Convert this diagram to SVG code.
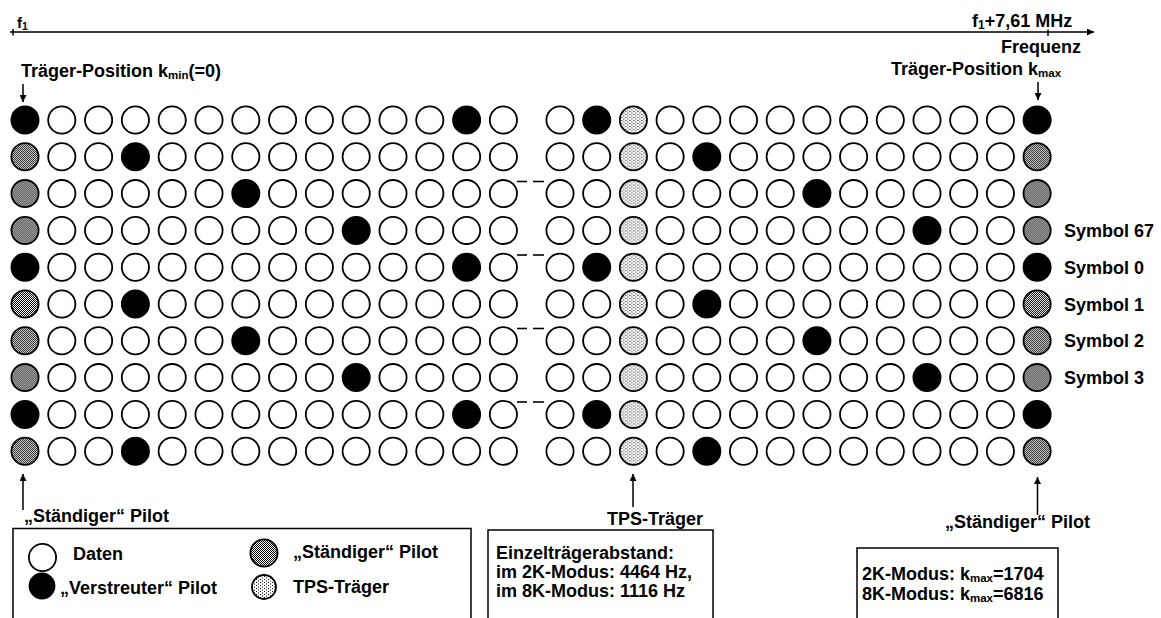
<svg xmlns="http://www.w3.org/2000/svg" xmlns:xlink="http://www.w3.org/1999/xlink" width="1161" height="618" viewBox="0 0 1161 618">
<style>
text{font-family:"Liberation Sans",Arial,sans-serif;font-weight:bold;font-size:18px;fill:#000}
.d{fill:#fff;stroke:#000;stroke-width:1.8}
.s{fill:#000;stroke:#000;stroke-width:1.8}
.c{fill:url(#cp);stroke:#000;stroke-width:1.8}
.t{fill:url(#tp);stroke:#000;stroke-width:1.8}
.ln{stroke:#000;stroke-width:1.5;fill:none}
.dash{stroke:#000;stroke-width:1.6}
.box{fill:none;stroke:#000;stroke-width:1.5}
</style>
<defs>
<pattern id="cp" width="2" height="2" patternUnits="userSpaceOnUse"><rect width="2" height="2" fill="#fff"/><rect width="1" height="1" fill="#000"/><rect x="1" y="1" width="1" height="1" fill="#000"/></pattern>
<pattern id="tp" width="4" height="3" patternUnits="userSpaceOnUse"><rect width="4" height="3" fill="#fff"/><rect width="1" height="1" fill="#000"/><rect x="2" y="1.5" width="1" height="1" fill="#000"/></pattern>
<marker id="ah" viewBox="0 0 10 10" refX="10" refY="5" markerWidth="7" markerHeight="7" markerUnits="userSpaceOnUse" orient="auto"><path d="M0,0 L10,5 L0,10 Z" fill="#000"/></marker>
<circle id="D" r="13.6" class="d"/>
<circle id="S" r="13.6" class="s"/>
<circle id="C" r="13.6" class="c"/>
<circle id="T" r="13.6" class="t"/>
<g id="rowA">
<use href="#S" x="25"/><use href="#D" x="61.8"/><use href="#D" x="98.6"/><use href="#D" x="135.4"/><use href="#D" x="172.2"/><use href="#D" x="209"/><use href="#D" x="245.8"/><use href="#D" x="282.6"/><use href="#D" x="319.4"/><use href="#D" x="356.2"/><use href="#D" x="393"/><use href="#D" x="429.8"/><use href="#S" x="466.6"/><use href="#D" x="503.4"/>
<use href="#D" x="560"/><use href="#S" x="596.7"/><use href="#T" x="633.4"/><use href="#D" x="670.1"/><use href="#D" x="706.8"/><use href="#D" x="743.5"/><use href="#D" x="780.2"/><use href="#D" x="816.9"/><use href="#D" x="853.6"/><use href="#D" x="890.3"/><use href="#D" x="927"/><use href="#D" x="963.7"/><use href="#D" x="1000.4"/><use href="#S" x="1037.1"/>
</g>
<g id="rowB">
<use href="#C" x="25"/><use href="#D" x="61.8"/><use href="#D" x="98.6"/><use href="#S" x="135.4"/><use href="#D" x="172.2"/><use href="#D" x="209"/><use href="#D" x="245.8"/><use href="#D" x="282.6"/><use href="#D" x="319.4"/><use href="#D" x="356.2"/><use href="#D" x="393"/><use href="#D" x="429.8"/><use href="#D" x="466.6"/><use href="#D" x="503.4"/>
<use href="#D" x="560"/><use href="#D" x="596.7"/><use href="#T" x="633.4"/><use href="#D" x="670.1"/><use href="#S" x="706.8"/><use href="#D" x="743.5"/><use href="#D" x="780.2"/><use href="#D" x="816.9"/><use href="#D" x="853.6"/><use href="#D" x="890.3"/><use href="#D" x="927"/><use href="#D" x="963.7"/><use href="#D" x="1000.4"/><use href="#C" x="1037.1"/>
</g>
<g id="rowC">
<use href="#C" x="25"/><use href="#D" x="61.8"/><use href="#D" x="98.6"/><use href="#D" x="135.4"/><use href="#D" x="172.2"/><use href="#D" x="209"/><use href="#S" x="245.8"/><use href="#D" x="282.6"/><use href="#D" x="319.4"/><use href="#D" x="356.2"/><use href="#D" x="393"/><use href="#D" x="429.8"/><use href="#D" x="466.6"/><use href="#D" x="503.4"/>
<use href="#D" x="560"/><use href="#D" x="596.7"/><use href="#T" x="633.4"/><use href="#D" x="670.1"/><use href="#D" x="706.8"/><use href="#D" x="743.5"/><use href="#D" x="780.2"/><use href="#S" x="816.9"/><use href="#D" x="853.6"/><use href="#D" x="890.3"/><use href="#D" x="927"/><use href="#D" x="963.7"/><use href="#D" x="1000.4"/><use href="#C" x="1037.1"/>
</g>
<g id="rowD">
<use href="#C" x="25"/><use href="#D" x="61.8"/><use href="#D" x="98.6"/><use href="#D" x="135.4"/><use href="#D" x="172.2"/><use href="#D" x="209"/><use href="#D" x="245.8"/><use href="#D" x="282.6"/><use href="#D" x="319.4"/><use href="#S" x="356.2"/><use href="#D" x="393"/><use href="#D" x="429.8"/><use href="#D" x="466.6"/><use href="#D" x="503.4"/>
<use href="#D" x="560"/><use href="#D" x="596.7"/><use href="#T" x="633.4"/><use href="#D" x="670.1"/><use href="#D" x="706.8"/><use href="#D" x="743.5"/><use href="#D" x="780.2"/><use href="#D" x="816.9"/><use href="#D" x="853.6"/><use href="#D" x="890.3"/><use href="#S" x="927"/><use href="#D" x="963.7"/><use href="#D" x="1000.4"/><use href="#C" x="1037.1"/>
</g>
</defs>

<g id="axis">
<line class="ln" x1="10" y1="32" x2="1094" y2="32" marker-end="url(#ah)"/>
<line class="ln" x1="13" y1="29" x2="13" y2="35.5"/>
<line class="ln" x1="1048" y1="29.5" x2="1048" y2="36"/>
<text x="17" y="28" style="font-size:15px">f<tspan dy="1.5" style="font-size:10.5px">1</tspan></text>
<text x="972" y="27">f<tspan dy="2" style="font-size:12px">1</tspan><tspan dy="-2">+7,61 MHz</tspan></text>
<text x="1081" y="53" text-anchor="end">Frequenz</text>
</g>

<g id="grid">
<use href="#rowA" y="120"/>
<use href="#rowB" y="156.8"/>
<use href="#rowC" y="193.6"/>
<use href="#rowD" y="230.4"/>
<use href="#rowA" y="267.2"/>
<use href="#rowB" y="304"/>
<use href="#rowC" y="340.8"/>
<use href="#rowD" y="377.6"/>
<use href="#rowA" y="414.4"/>
<use href="#rowB" y="451.2"/>
</g>

<g id="gap-dashes">
<line class="dash" x1="517" y1="181.5" x2="527" y2="181.5"/><line class="dash" x1="533" y1="181.5" x2="544" y2="181.5"/>
<line class="dash" x1="517" y1="255" x2="527" y2="255"/><line class="dash" x1="533" y1="255" x2="544" y2="255"/>
<line class="dash" x1="517" y1="328.5" x2="527" y2="328.5"/><line class="dash" x1="533" y1="328.5" x2="544" y2="328.5"/>
<line class="dash" x1="517" y1="402" x2="527" y2="402"/><line class="dash" x1="533" y1="402" x2="544" y2="402"/>
</g>

<g id="labels-top">
<text x="21" y="77">Träger-Position k<tspan dy="2" style="font-size:11.5px">min</tspan><tspan dy="-2">(=0)</tspan></text>
<text x="891" y="75">Träger-Position k<tspan dy="2" style="font-size:11.5px">max</tspan></text>
</g>

<g id="symbol-labels">
<text x="1064" y="236.5">Symbol 67</text>
<text x="1064" y="273.5">Symbol 0</text>
<text x="1064" y="310.5">Symbol 1</text>
<text x="1064" y="347">Symbol 2</text>
<text x="1064" y="384">Symbol 3</text>
</g>

<g id="connectors">
<line class="ln" x1="23" y1="84" x2="23" y2="102" marker-end="url(#ah)"/>
<line class="ln" x1="1038" y1="82" x2="1038" y2="100" marker-end="url(#ah)"/>
<line class="ln" x1="23" y1="510" x2="23" y2="474" marker-end="url(#ah)"/>
<line class="ln" x1="633" y1="507" x2="633" y2="474" marker-end="url(#ah)"/>
<line class="ln" x1="1037.5" y1="515" x2="1037.5" y2="477" marker-end="url(#ah)"/>
</g>

<g id="labels-bottom">
<text x="24" y="522">„Ständiger“ Pilot</text>
<text x="607" y="525">TPS-Träger</text>
<text x="945" y="528">„Ständiger“ Pilot</text>
</g>

<g id="legend">
<path class="box" d="M13,618 V528.5 H471 V618"/>
<circle class="d" cx="42.5" cy="557.5" r="13.6"/>
<text x="73" y="560">Daten</text>
<circle class="s" cx="42" cy="586" r="12.5"/>
<text x="60" y="594">„Verstreuter“ Pilot</text>
<circle class="c" cx="264" cy="553" r="13.6"/>
<text x="293" y="558">„Ständiger“ Pilot</text>
<circle class="t" cx="264" cy="587" r="12"/>
<text x="293" y="593">TPS-Träger</text>
</g>

<g id="spacing-box">
<path class="box" d="M488,618 V530 H713 V618"/>
<text x="496" y="559">Einzelträgerabstand:</text>
<text x="496" y="578">im 2K-Modus: 4464 Hz,</text>
<text x="496" y="597">im 8K-Modus: 1116 Hz</text>
</g>

<g id="kmax-box">
<path class="box" d="M857,618 V548 H1058 V618"/>
<text x="862" y="580">2K-Modus: k<tspan dy="2" style="font-size:11.5px">max</tspan><tspan dy="-2">=1704</tspan></text>
<text x="862" y="600">8K-Modus: k<tspan dy="2" style="font-size:11.5px">max</tspan><tspan dy="-2">=6816</tspan></text>
</g>
</svg>
